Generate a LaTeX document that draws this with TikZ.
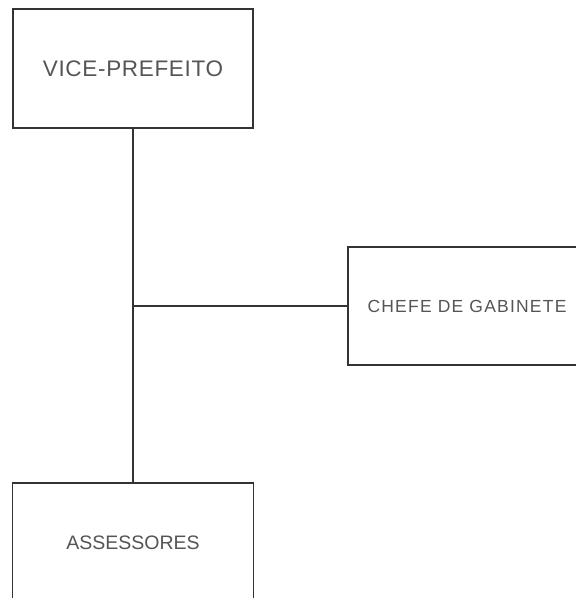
\documentclass[tikz,border=0pt]{standalone}
\usepackage{fontspec}
\setmainfont{Liberation Sans}
\definecolor{txtgray}{HTML}{555555}
\definecolor{linegray}{HTML}{333333}
\begin{document}
\begin{tikzpicture}[x=1pt,y=-1pt,
  orgbox/.style={draw=linegray, line width=1.4pt, rectangle, inner sep=0pt, text=txtgray},
  conn/.style={draw=linegray, line width=1.4pt}]
\clip (0,0) rectangle (576,598);
\fill[white] (0,0) rectangle (576,598);
\node[orgbox, minimum width=240pt, minimum height=119pt, font=\fontsize{22.5}{26}\selectfont\addfontfeatures{LetterSpace=3}] (vp) at (133,68.5) {VICE-PREFEITO};
\node[orgbox, minimum width=238pt, minimum height=118pt, font=\fontsize{17.5}{21}\selectfont\addfontfeatures{LetterSpace=7}] (cg) at (467,306) {CHEFE DE GABINETE};
\node[orgbox, minimum width=241pt, minimum height=120pt, font=\fontsize{19.5}{23}\selectfont] (as) at (133,543) {ASSESSORES};
\coordinate (j) at (vp.south |- cg.west);
\draw[conn] (vp.south) -- (as.north);
\draw[conn] (j) -- (cg.west);
\end{tikzpicture}
\end{document}
